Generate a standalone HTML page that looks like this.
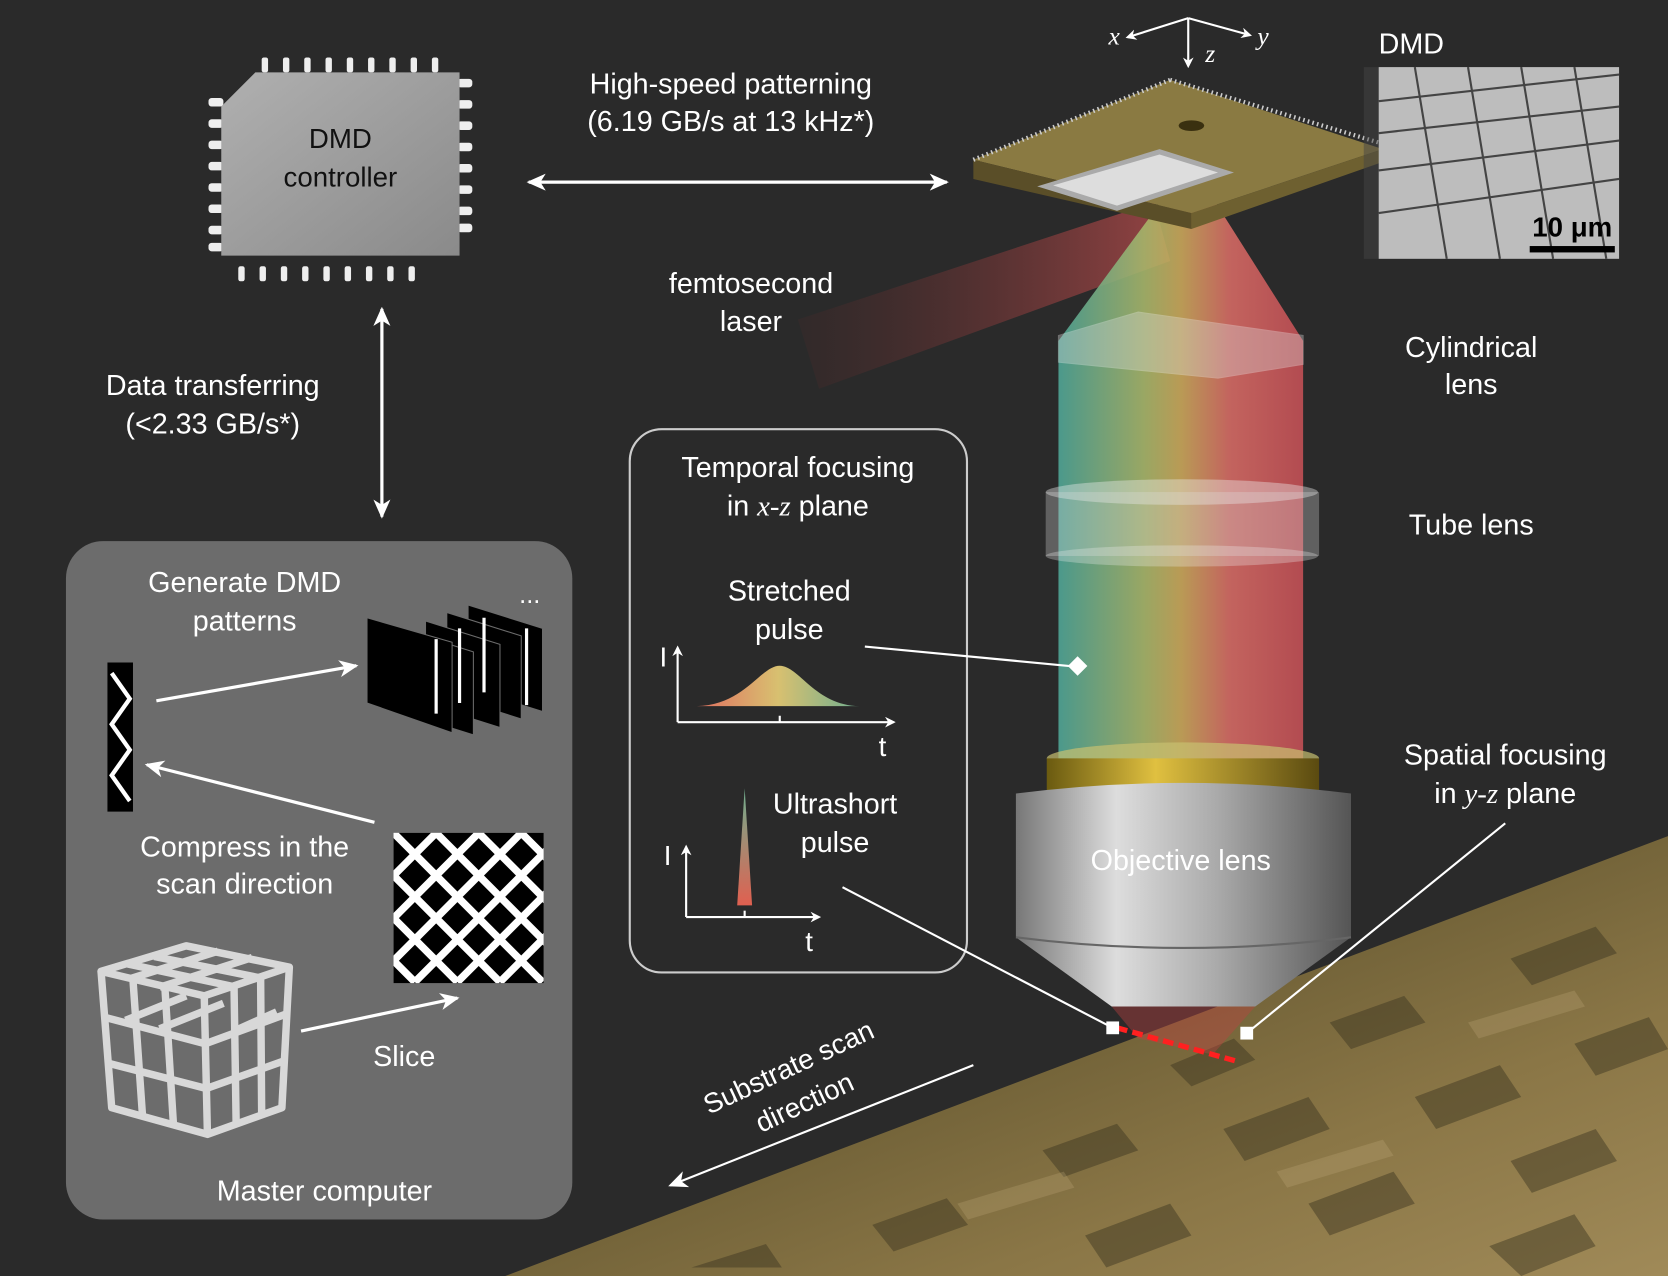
<!DOCTYPE html>
<html><head><meta charset="utf-8"><style>
html,body{margin:0;padding:0;background:#2a2a2a;}
svg{display:block}
text{font-family:"Liberation Sans",sans-serif;fill:#fff;}
</style></head><body>
<svg width="1668" height="1276" viewBox="0 0 1568 1198" preserveAspectRatio="none" xmlns="http://www.w3.org/2000/svg">
<defs>
<linearGradient id="beam" x1="0" x2="1" y1="0" y2="0">
<stop offset="0" stop-color="#4fa596"/><stop offset="0.35" stop-color="#a6b56a"/><stop offset="0.5" stop-color="#c9a75a"/><stop offset="0.7" stop-color="#d46a64"/><stop offset="1" stop-color="#c24f55"/></linearGradient>
<linearGradient id="laser" x1="0" x2="1"><stop offset="0" stop-color="#5a2a2a" stop-opacity="0.2"/><stop offset="1" stop-color="#b04a4a"/></linearGradient>
<linearGradient id="paint" x1="0" y1="0" x2="1" y2="1"><stop offset="0" stop-color="#7e6e40"/><stop offset="0.4" stop-color="#6a5c34"/><stop offset="0.7" stop-color="#8a7646"/><stop offset="1" stop-color="#a08a58"/></linearGradient>
<linearGradient id="chip" x1="0" y1="0" x2="1" y2="1"><stop offset="0" stop-color="#b0b0b0"/><stop offset="1" stop-color="#8a8a8a"/></linearGradient>
<linearGradient id="silver" x1="0" x2="1"><stop offset="0" stop-color="#777"/><stop offset="0.3" stop-color="#ddd"/><stop offset="0.6" stop-color="#aaa"/><stop offset="1" stop-color="#555"/></linearGradient>
<linearGradient id="gold" x1="0" x2="1"><stop offset="0" stop-color="#6a5a10"/><stop offset="0.4" stop-color="#e0c040"/><stop offset="1" stop-color="#5a4a10"/></linearGradient>
<linearGradient id="gauss" x1="0" x2="1"><stop offset="0" stop-color="#e07060"/><stop offset="0.5" stop-color="#d8c070"/><stop offset="1" stop-color="#70b090"/></linearGradient>
<linearGradient id="spike" x1="0" y1="0" x2="0" y2="1"><stop offset="0" stop-color="#70b090"/><stop offset="1" stop-color="#e06050"/></linearGradient>
<clipPath id="sq"><rect x="370" y="782" width="141" height="141"/></clipPath>
<marker id="ah" markerWidth="10" markerHeight="10" refX="8" refY="5" orient="auto" markerUnits="userSpaceOnUse"><path d="M0,0 L10,5 L0,10 L3,5z" fill="#fff"/></marker>
<marker id="ah2" markerWidth="18" markerHeight="16" refX="16" refY="8" orient="auto-start-reverse" markerUnits="userSpaceOnUse"><path d="M0,0 L18,8 L0,16 L5,8z" fill="#fff"/></marker>
</defs>
<rect width="1568" height="1198" fill="#2a2a2a"/>
<!-- painting -->
<polygon points="475,1198 1568,785 1568,1198" fill="url(#paint)"/>
<g fill="#3a3420" opacity="0.45">
<polygon points="1100,1000 1160,975 1180,995 1120,1020"/><polygon points="1250,960 1320,935 1340,960 1270,985"/>
<polygon points="1420,900 1500,870 1520,895 1440,925"/><polygon points="980,1080 1050,1055 1070,1080 1000,1105"/>
<polygon points="1150,1060 1230,1030 1250,1060 1170,1090"/><polygon points="1330,1030 1410,1000 1430,1030 1350,1060"/>
<polygon points="1480,980 1550,955 1568,985 1500,1010"/><polygon points="820,1150 890,1125 910,1150 840,1175"/>
<polygon points="1020,1160 1100,1130 1120,1160 1040,1190"/><polygon points="1230,1130 1310,1100 1330,1130 1250,1160"/>
<polygon points="1420,1090 1500,1060 1520,1090 1440,1120"/><polygon points="650,1190 720,1168 735,1190"/>
<polygon points="1400,1170 1480,1140 1500,1170 1430,1198"/>
</g>
<g fill="#c8b080" opacity="0.25">
<polygon points="1200,1100 1300,1070 1310,1085 1210,1115"/><polygon points="1380,960 1480,930 1490,945 1390,975"/>
<polygon points="900,1130 1000,1100 1010,1115 910,1145"/>
</g>
<!-- laser -->
<polygon points="750,300 1085,190 1100,245 770,365" fill="url(#laser)" opacity="0.8"/>
<!-- beam -->
<polygon points="1100,178 1135,178 1225,320 1225,720 995,720 995,320" fill="url(#beam)" opacity="0.9"/>
<!-- DMD device -->
<polygon points="915,150 1100,75 1300,140 1120,200" fill="#8a7a42"/>
<polygon points="915,150 1120,200 1120,215 915,168" fill="#5a4e28"/>
<polygon points="1120,200 1300,140 1300,152 1120,215" fill="#6e6030"/>
<polygon points="975,175 1090,140 1160,162 1050,198" fill="#aaa"/>
<polygon points="990,174 1090,145 1145,162 1050,193" fill="#ddd"/>
<ellipse cx="1120" cy="118" rx="12" ry="5" fill="#3a3010"/>
<line x1="1100" y1="75" x2="1300" y2="135" stroke="#ccc" stroke-width="4" stroke-dasharray="1.5,3"/>
<line x1="915" y1="150" x2="1100" y2="75" stroke="#ccc" stroke-width="4" stroke-dasharray="1.5,3"/>
<!-- cylindrical lens -->
<polygon points="995,315 1070,293 1225,315 1225,342 1145,355 995,340" fill="#ddd" opacity="0.35" stroke="#eee" stroke-width="1"/>
<!-- tube lens -->
<ellipse cx="1111" cy="462" rx="128" ry="12" fill="#eee" opacity="0.4"/>
<rect x="983" y="462" width="257" height="60" fill="#ddd" opacity="0.3"/>
<ellipse cx="1111" cy="522" rx="128" ry="10" fill="#eee" opacity="0.3"/>
<!-- objective -->
<ellipse cx="1112" cy="712" rx="128" ry="15" fill="#c8c070" opacity="0.7"/>
<rect x="984" y="712" width="256" height="40" fill="url(#gold)"/>
<path d="M955,745 Q1112,725 1270,745 L1270,880 L1180,945 L1045,945 L955,880Z" fill="url(#silver)"/>
<path d="M955,880 Q1112,900 1270,880" stroke="#666" fill="none" stroke-width="2"/>
<text x="1110" y="817" font-size="27" text-anchor="middle">Objective lens</text>
<polygon points="1045,945 1180,945 1140,990 1070,975" fill="#c04040" opacity="0.4"/>
<line x1="1050" y1="965" x2="1165" y2="997" stroke="#ff2020" stroke-width="5" stroke-dasharray="10,5"/>
<!-- SEM -->
<rect x="1296" y="63" width="226" height="180" fill="#bdbdbd"/>
<g stroke="#444" stroke-width="2">
<line x1="1296" y1="95" x2="1522" y2="70"/><line x1="1296" y1="125" x2="1522" y2="100"/><line x1="1296" y1="160" x2="1522" y2="132"/><line x1="1296" y1="200" x2="1522" y2="168"/>
<line x1="1330" y1="63" x2="1360" y2="243"/><line x1="1380" y1="63" x2="1410" y2="243"/><line x1="1430" y1="63" x2="1460" y2="243"/><line x1="1480" y1="63" x2="1510" y2="243"/>
</g>
<rect x="1438" y="231" width="80" height="6" fill="#000"/>
<text x="1478" y="222" font-size="26" font-weight="bold" text-anchor="middle" style="fill:#000">10 μm</text>
<polygon points="1282,63 1296,63 1296,243 1282,243" fill="#444" opacity="0.5"/>
<text x="1296" y="50" font-size="27">DMD</text>
<!-- axes -->
<g stroke="#fff" stroke-width="2" fill="none">
<line x1="1117" y1="17" x2="1060" y2="35" marker-end="url(#ah)"/><line x1="1117" y1="17" x2="1175" y2="33" marker-end="url(#ah)"/><line x1="1117" y1="17" x2="1117" y2="62" marker-end="url(#ah)"/>
</g>
<text x="1042" y="42" font-size="24" font-style="italic" style="font-family:'Liberation Serif',serif">x</text>
<text x="1182" y="42" font-size="24" font-style="italic" style="font-family:'Liberation Serif',serif">y</text>
<text x="1133" y="58" font-size="24" font-style="italic" style="font-family:'Liberation Serif',serif">z</text>
<!-- chip -->
<g fill="#eee">
<g id="pt"><rect x="246" y="54" width="6" height="14" rx="2"/><rect x="266" y="54" width="6" height="14" rx="2"/><rect x="286" y="54" width="6" height="14" rx="2"/><rect x="306" y="54" width="6" height="14" rx="2"/><rect x="326" y="54" width="6" height="14" rx="2"/><rect x="346" y="54" width="6" height="14" rx="2"/><rect x="366" y="54" width="6" height="14" rx="2"/><rect x="386" y="54" width="6" height="14" rx="2"/><rect x="406" y="54" width="6" height="14" rx="2"/></g>
<use href="#pt" transform="translate(-22,196)"/>
<g id="pl"><rect x="196" y="92" width="14" height="8" rx="3"/><rect x="196" y="112" width="14" height="8" rx="3"/><rect x="196" y="132" width="14" height="8" rx="3"/><rect x="196" y="152" width="14" height="8" rx="3"/><rect x="196" y="172" width="14" height="8" rx="3"/><rect x="196" y="192" width="14" height="8" rx="3"/><rect x="196" y="212" width="14" height="8" rx="3"/><rect x="196" y="228" width="14" height="8" rx="3"/></g>
<use href="#pl" transform="translate(234,-18)"/>
</g>
<polygon points="240,68 432,68 432,240 208,240 208,100" fill="url(#chip)"/>
<text x="320" y="139" font-size="26" text-anchor="middle" style="fill:#111">DMD</text>
<text x="320" y="175" font-size="26" text-anchor="middle" style="fill:#111">controller</text>
<!-- arrows -->
<line x1="497" y1="171" x2="890" y2="171" stroke="#fff" stroke-width="3" marker-start="url(#ah2)" marker-end="url(#ah2)"/>
<line x1="359" y1="290" x2="359" y2="485" stroke="#fff" stroke-width="3" marker-start="url(#ah2)" marker-end="url(#ah2)"/>
<text x="687" y="88" font-size="27" text-anchor="middle">High-speed patterning</text>
<text x="687" y="123" font-size="27" text-anchor="middle">(6.19 GB/s at 13 kHz*)</text>
<text x="200" y="371" font-size="27" text-anchor="middle">Data transferring</text>
<text x="200" y="407" font-size="27" text-anchor="middle">(&lt;2.33 GB/s*)</text>
<text x="706" y="275" font-size="27" text-anchor="middle">femtosecond</text>
<text x="706" y="311" font-size="27" text-anchor="middle">laser</text>
<text x="1383" y="335" font-size="27" text-anchor="middle">Cylindrical</text>
<text x="1383" y="370" font-size="27" text-anchor="middle">lens</text>
<text x="1383" y="502" font-size="27" text-anchor="middle">Tube lens</text>
<text x="1415" y="718" font-size="27" text-anchor="middle">Spatial focusing</text>
<text x="1415" y="754" font-size="27" text-anchor="middle">in <tspan font-style="italic" style="font-family:'Liberation Serif',serif">y-z</tspan> plane</text>
<!-- master computer box -->
<rect x="62" y="508" width="476" height="637" rx="35" fill="#6c6c6c"/>
<text x="230" y="556" font-size="27" text-anchor="middle">Generate DMD</text>
<text x="230" y="592" font-size="27" text-anchor="middle">patterns</text>
<text x="498" y="566" font-size="24" text-anchor="middle">...</text>
<text x="230" y="804" font-size="27" text-anchor="middle">Compress in the</text>
<text x="230" y="839" font-size="27" text-anchor="middle">scan direction</text>
<text x="380" y="1001" font-size="27" text-anchor="middle">Slice</text>
<text x="305" y="1127" font-size="27" text-anchor="middle">Master computer</text>
<rect x="101" y="622" width="24" height="140" fill="#000"/>
<polyline points="105,632 122,656 105,680 122,704 105,728 122,752" stroke="#fff" stroke-width="4" fill="none"/>
<g fill="#000" stroke="#6c6c6c" stroke-width="1">
<polygon points="440,568 510,590 510,668 440,646"/>
<polygon points="420,575 490,597 490,675 420,653"/>
<polygon points="400,583 470,605 470,683 400,661"/>
<polygon points="375,590 445,612 445,690 375,668"/>
<polygon points="345,580 425,603 425,688 345,660"/>
</g>
<g stroke="#fff" stroke-width="3"><line x1="455" y1="580" x2="455" y2="650"/><line x1="495" y1="590" x2="495" y2="662"/><line x1="432" y1="590" x2="432" y2="660"/><line x1="410" y1="600" x2="410" y2="670"/></g>
<rect x="370" y="782" width="141" height="141" fill="#000"/>
<g stroke="#fff" stroke-width="7" fill="none" clip-path="url(#sq)">
<path d="M350,802 L470,922 M350,762 L510,922 M390,762 L530,902 M430,762 L530,862 M470,762 L530,822 M350,842 L430,922 M350,882 L390,922"/>
<path d="M350,842 L430,762 M350,882 L470,762 M350,922 L510,762 M390,922 L530,782 M430,922 L530,822 M470,922 L530,862 M350,802 L390,762"/>
</g>
<g stroke="#d8d8d8" stroke-width="7" fill="none" stroke-linejoin="round">
<path d="M95,912 L175,888 L272,908 L192,935Z"/>
<path d="M95,912 L105,1040 L195,1065 L192,935 M195,1065 L265,1040 L272,908"/>
<path d="M125,920 L134,1048 M155,927 L163,1055 M220,926 L222,1056 M245,918 L246,1048"/>
<path d="M98,955 L193,980 L269,952 M101,998 L194,1022 L267,996"/>
<path d="M120,905 L218,926 M145,898 L244,918 M122,919 L205,893 M150,927 L237,899"/>
<path d="M118,958 L175,935 M150,966 L210,942 M220,968 L260,950"/>
</g>
<g stroke="#fff" stroke-width="3" fill="none">
<line x1="147" y1="658" x2="335" y2="625" marker-end="url(#ah2)"/>
<line x1="352" y1="772" x2="138" y2="718" marker-end="url(#ah2)"/>
<line x1="283" y1="968" x2="430" y2="937" marker-end="url(#ah2)"/>
</g>
<!-- temporal box -->
<rect x="592" y="403" width="317" height="510" rx="30" fill="none" stroke="#ccc" stroke-width="2"/>
<text x="750" y="448" font-size="27" text-anchor="middle">Temporal focusing</text>
<text x="750" y="484" font-size="27" text-anchor="middle">in <tspan font-style="italic" style="font-family:'Liberation Serif',serif">x-z</tspan> plane</text>
<text x="742" y="564" font-size="27" text-anchor="middle">Stretched</text>
<text x="742" y="600" font-size="27" text-anchor="middle">pulse</text>
<text x="785" y="764" font-size="27" text-anchor="middle">Ultrashort</text>
<text x="785" y="800" font-size="27" text-anchor="middle">pulse</text>
<path d="M655,663 C700,662 715,625 733,625 C751,625 766,662 808,663Z" fill="url(#gauss)"/>
<path d="M693,850 L700,740 L707,850Z" fill="url(#spike)"/>
<g stroke="#fff" stroke-width="2" fill="none">
<line x1="637" y1="678" x2="637" y2="608" marker-end="url(#ah)"/><line x1="637" y1="678" x2="840" y2="678" marker-end="url(#ah)"/>
<line x1="733" y1="672" x2="733" y2="678"/>
<line x1="645" y1="861" x2="645" y2="795" marker-end="url(#ah)"/><line x1="645" y1="861" x2="770" y2="861" marker-end="url(#ah)"/>
<line x1="700" y1="855" x2="700" y2="861"/>
<line x1="813" y1="607" x2="1013" y2="626"/>
<line x1="792" y1="833" x2="1046" y2="965"/>
<line x1="1415" y1="773" x2="1172" y2="970"/>
</g>
<text x="620" y="626" font-size="26">I</text><text x="826" y="710" font-size="26">t</text>
<text x="624" y="812" font-size="26">I</text><text x="757" y="893" font-size="26">t</text>
<rect x="1006" y="619" width="13" height="13" fill="#fff" transform="rotate(45 1013 626)"/>
<rect x="1040" y="959" width="12" height="12" fill="#fff"/>
<rect x="1166" y="964" width="12" height="12" fill="#fff"/>
<!-- scan direction -->
<line x1="915" y1="1000" x2="630" y2="1113" stroke="#fff" stroke-width="2" marker-end="url(#ah2)"/>
<text transform="translate(745,1010) rotate(-25)" font-size="26" text-anchor="middle">Substrate scan</text>
<text transform="translate(760,1043) rotate(-25)" font-size="26" text-anchor="middle">direction</text>
</svg>
</body></html>
